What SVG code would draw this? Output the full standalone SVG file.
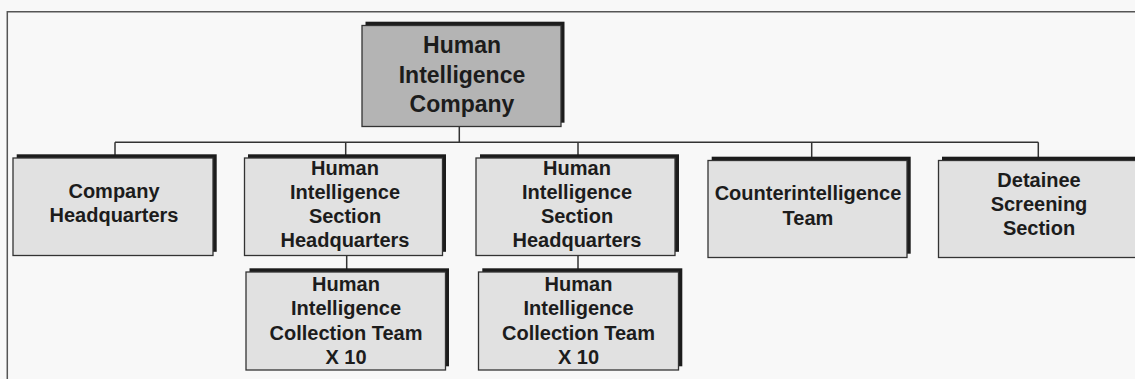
<svg xmlns="http://www.w3.org/2000/svg" width="1135" height="379" viewBox="0 0 1135 379">
<style>
.bg{fill:#f8f8f8}
.frame{fill:none;stroke:#555;stroke-width:1.5}
.sh{fill:#1c1c1c}
.box{fill:#e1e1e1;stroke:#333;stroke-width:1.3}
.top{fill:#b4b4b4;stroke:#333;stroke-width:1.3}
.ln{fill:none;stroke:#333;stroke-width:1.5}
text{font-family:"Liberation Sans",Arial,sans-serif;font-weight:bold;fill:#1c1c1c;text-anchor:middle}
.t1{font-size:23px}
.t2{font-size:20px}
</style>
<rect class="bg" x="0" y="0" width="1135" height="379"/>
<path class="frame" d="M7.3,379 V11.7 H1135"/>
<g id="connectors">
<path class="ln" d="M459.3,127 V142.3 M115,142.3 H1038.3 M115,142.3 V155 M345.7,142.3 V155 M578,142.3 V155 M811.7,142.3 V157 M1038.3,142.3 V157 M346.7,255.5 V269 M578,255.5 V269"/>
</g>
<g id="hic">
<rect class="sh" x="365.5" y="21.7" width="199" height="101"/>
<rect class="top" x="362" y="25.5" width="199" height="101"/>
<text class="t1" x="462" y="53.3">Human</text>
<text class="t1" x="462" y="82.6">Intelligence</text>
<text class="t1" x="462" y="111.8">Company</text>
</g>
<g id="chq">
<rect class="sh" x="16.7" y="154.3" width="200" height="97.5"/>
<rect class="box" x="13" y="158" width="200" height="97.5"/>
<text class="t2" x="114" y="198">Company</text>
<text class="t2" x="114" y="222">Headquarters</text>
</g>
<g id="hishq1">
<rect class="sh" x="248" y="154.3" width="198" height="97.5"/>
<rect class="box" x="244.5" y="158" width="198" height="97.5"/>
<text class="t2" x="345" y="175">Human</text>
<text class="t2" x="345" y="199">Intelligence</text>
<text class="t2" x="345" y="223">Section</text>
<text class="t2" x="345" y="247">Headquarters</text>
</g>
<g id="hishq2">
<rect class="sh" x="480" y="154.3" width="199" height="97.5"/>
<rect class="box" x="476" y="158" width="199" height="97.5"/>
<text class="t2" x="577" y="175">Human</text>
<text class="t2" x="577" y="199">Intelligence</text>
<text class="t2" x="577" y="223">Section</text>
<text class="t2" x="577" y="247">Headquarters</text>
</g>
<g id="hct1">
<rect class="sh" x="249.5" y="268.3" width="199.5" height="98"/>
<rect class="box" x="246" y="272" width="199.5" height="98"/>
<text class="t2" x="346" y="291">Human</text>
<text class="t2" x="346" y="315">Intelligence</text>
<text class="t2" x="346" y="340">Collection Team</text>
<text class="t2" x="346" y="364">X 10</text>
</g>
<g id="hct2">
<rect class="sh" x="482.3" y="268.3" width="200" height="98"/>
<rect class="box" x="478.5" y="272" width="200" height="98"/>
<text class="t2" x="578.5" y="291">Human</text>
<text class="t2" x="578.5" y="315">Intelligence</text>
<text class="t2" x="578.5" y="340">Collection Team</text>
<text class="t2" x="578.5" y="364">X 10</text>
</g>
<g id="ci">
<rect class="sh" x="711.7" y="156.7" width="199" height="97"/>
<rect class="box" x="708" y="160.5" width="199" height="97"/>
<text class="t2" x="808" y="200">Counterintelligence</text>
<text class="t2" x="808" y="225">Team</text>
</g>
<g id="dss">
<rect class="sh" x="942" y="156.7" width="199" height="97"/>
<rect class="box" x="938.5" y="160.5" width="199" height="97"/>
<text class="t2" x="1039" y="187">Detainee</text>
<text class="t2" x="1039" y="211">Screening</text>
<text class="t2" x="1039" y="235">Section</text>
</g>
</svg>
